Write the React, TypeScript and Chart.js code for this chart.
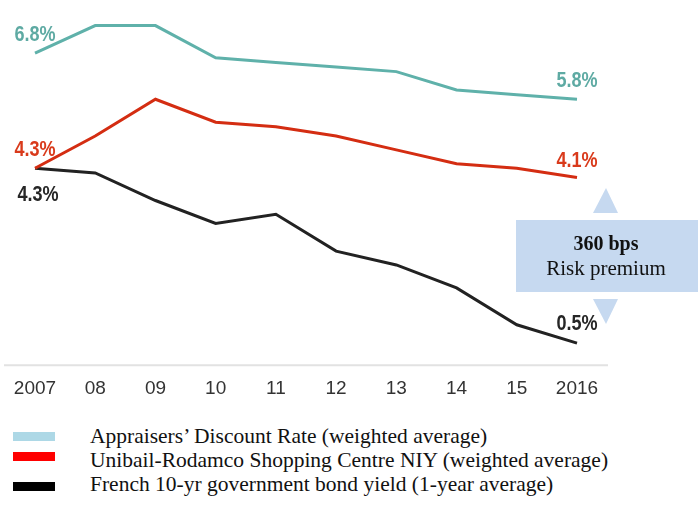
import React, { useEffect, useRef } from "react";
import { Chart, registerables } from "chart.js";

Chart.register(...registerables);

const years = ["2007", "08", "09", "10", "11", "12", "13", "14", "15", "2016"];
const discountRate = [6.8, 7.4, 7.4, 6.7, 6.6, 6.5, 6.4, 6.0, 5.9, 5.8];
const shoppingNIY = [4.3, 5.0, 5.8, 5.3, 5.2, 5.0, 4.7, 4.4, 4.3, 4.1];
const bondYield = [4.3, 4.2, 3.6, 3.1, 3.3, 2.5, 2.2, 1.7, 0.9, 0.5];

const seriesNames = [
  "Appraisers\u2019 Discount Rate (weighted average)",
  "Unibail-Rodamco Shopping Centre NIY (weighted average)",
  "French 10-yr government bond yield (1-year average)",
];
const lineColors = ["#5fb1aa", "#d42d12", "#222222"];
const labelColors = ["#5eaaa3", "#d93a1b", "#262626"];
const swatchColors = ["#add8e6", "#ff0000", "#000000"];
const premiumTitle = "360 bps";
const premiumSub = "Risk premium";

const annotPlugin = {
  id: "annot",
  beforeDatasetsDraw(chart: any) {
    const { ctx } = chart;
    const y = chart.scales.y.getPixelForValue(0);
    ctx.save();
    ctx.strokeStyle = "#e2e2e2";
    ctx.lineWidth = 2;
    ctx.beginPath();
    ctx.moveTo(4, y - 1);
    ctx.lineTo(608, y - 1);
    ctx.stroke();
    ctx.restore();
  },
  afterDatasetsDraw(chart: any) {
    const { ctx } = chart;
    const xs = chart.scales.x;
    const ys = chart.scales.y;
    const placements = [
      { ds: 0, idx: 0, dx: 0, dy: -18 },
      { ds: 0, idx: 9, dx: 0, dy: -18 },
      { ds: 1, idx: 0, dx: 0, dy: -18 },
      { ds: 1, idx: 9, dx: 0, dy: -17 },
      { ds: 2, idx: 0, dx: 3, dy: 27 },
      { ds: 2, idx: 9, dx: 0, dy: -19 },
    ];
    placements.forEach((p) => {
      const v = chart.data.datasets[p.ds].data[p.idx];
      const px = xs.getPixelForValue(p.idx) + p.dx;
      const py = ys.getPixelForValue(v) + p.dy;
      ctx.save();
      ctx.translate(px, py);
      ctx.scale(0.82, 1);
      ctx.font = "bold 22px Arial, 'Liberation Sans', sans-serif";
      ctx.textAlign = "center";
      ctx.textBaseline = "middle";
      ctx.fillStyle = labelColors[p.ds];
      ctx.fillText(v.toFixed(1) + "%", 0, 0);
      ctx.restore();
    });

    // risk premium box
    ctx.save();
    const bx = 516, by = 220, bw = 182, bh = 72;
    const cx = 606;
    ctx.fillStyle = "#c6d9f0";
    ctx.fillRect(bx, by, bw, bh);
    ctx.beginPath();
    ctx.moveTo(cx, 188);
    ctx.lineTo(618, 213);
    ctx.lineTo(593, 213);
    ctx.closePath();
    ctx.fill();
    ctx.beginPath();
    ctx.moveTo(593, 299);
    ctx.lineTo(618, 299);
    ctx.lineTo(cx, 324);
    ctx.closePath();
    ctx.fill();
    ctx.fillStyle = "#111";
    ctx.textAlign = "center";
    ctx.textBaseline = "alphabetic";
    ctx.font = "bold 20px 'Liberation Serif', 'Times New Roman', serif";
    ctx.fillText(premiumTitle, cx, 250);
    ctx.font = "21px 'Liberation Serif', 'Times New Roman', serif";
    ctx.fillText(premiumSub, cx, 275);
    ctx.restore();
  },
};

export default function App() {
  const ref = useRef<HTMLCanvasElement | null>(null);
  useEffect(() => {
    if (!ref.current) return;
    const chart = new Chart(ref.current, {
      type: "line",
      data: {
        labels: years,
        datasets: [discountRate, shoppingNIY, bondYield].map((d, i) => ({
          label: seriesNames[i],
          data: d,
          borderColor: lineColors[i],
          backgroundColor: lineColors[i],
          borderWidth: 3,
          pointRadius: 0,
          tension: 0,
          fill: false,
        })),
      },
      options: {
        animation: false,
        responsive: false,
        maintainAspectRatio: false,
        layout: { padding: { left: 35, right: 122, top: 21, bottom: 0 } },
        plugins: { legend: { display: false }, tooltip: { enabled: false } },
        scales: {
          x: {
            offset: false,
            grid: { display: false, drawTicks: false },
            border: { display: false },
            ticks: {
              color: "#333",
              font: { family: "Arial, 'Liberation Sans', sans-serif", size: 19 },
              padding: 11,
              maxRotation: 0,
              autoSkip: false,
            },
          },
          y: { display: false, min: 0, max: 7.5 },
        },
      },
      plugins: [annotPlugin],
    });
    return () => chart.destroy();
  }, []);

  return (
    <div style={{ position: "fixed", left: 0, top: 0, width: 699, height: 507, background: "#fff" }}>
      <canvas ref={ref} width={699} height={411} style={{ position: "absolute", left: 0, top: 0 }} />
      {seriesNames.map((n, i) => (
        <React.Fragment key={n}>
          <div
            style={{
              position: "absolute",
              left: 13,
              top: [432, 452, 482][i],
              width: 42,
              height: 9,
              background: swatchColors[i],
            }}
          />
          <div
            style={{
              position: "absolute",
              left: 90,
              top: 424 + i * 24,
              font: "21.5px 'Liberation Serif', 'Times New Roman', serif",
              lineHeight: "24px",
              whiteSpace: "nowrap",
              color: "#111",
            }}
          >
            {n}
          </div>
        </React.Fragment>
      ))}
    </div>
  );
}
